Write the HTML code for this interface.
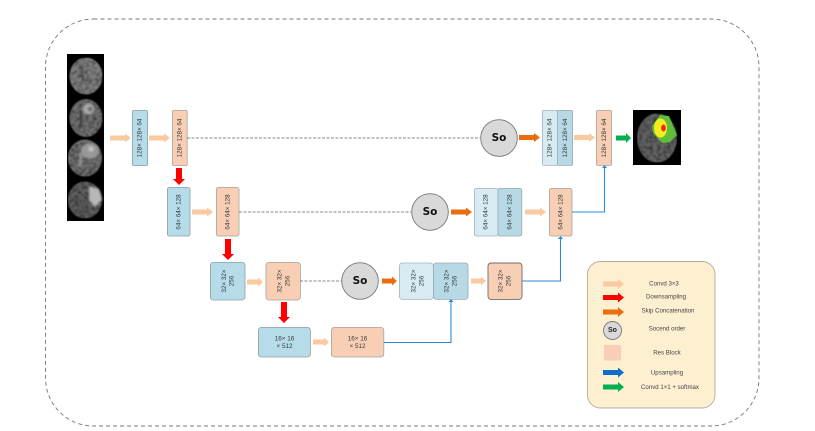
<!DOCTYPE html>
<html><head><meta charset="utf-8"><style>
html,body{margin:0;padding:0;background:#fff}
svg{display:block;filter:blur(.3px)}
text{font-family:"Liberation Sans","DejaVu Sans",sans-serif;fill:#33383c;text-anchor:middle;dominant-baseline:central}
.t{font-size:6.3px}
.l{font-size:6.1px;fill:#444}
.b{fill:#b7dce9;stroke:#8f9fa6;stroke-width:.8}
.p{fill:#f8cfb5;stroke:#a9a39c;stroke-width:.8}
.lb{fill:#d8ebf3;stroke:#a5b3b9;stroke-width:.8}
.mb{fill:#b6d9e5;stroke:#98a9b0;stroke-width:.8}
.ap{fill:#f9c9a2}.ar{fill:#f00}.ao{fill:#ea6d10}.ag{fill:#00b050}.au{fill:#0f6fc6}
.d{stroke:#666;stroke-width:.8;stroke-dasharray:3 1.5;fill:none}
.u{stroke:#2a8ad4;stroke-width:1.1;fill:none}
.c{fill:#d9d9d9;stroke:#777;stroke-width:.9}
.s{font-size:10.5px;font-weight:bold;fill:#111;font-family:"DejaVu Sans",sans-serif}
</style></head><body>
<svg width="815" height="431" viewBox="0 0 815 431" xmlns="http://www.w3.org/2000/svg">
<defs>
<filter id="f1" x="-30%" y="-30%" width="160%" height="160%"><feGaussianBlur stdDeviation="1"/></filter>
<filter id="n" x="0" y="0" width="100%" height="100%">
<feTurbulence type="fractalNoise" baseFrequency=".28" numOctaves="2" seed="4" result="t"/>
<feColorMatrix in="t" type="matrix" values="0 0 0 0 0  0 0 0 0 0  0 0 0 0 0  1.6 0 0 0 -.55" result="a"/>
<feComposite in="a" in2="SourceAlpha" operator="in" result="m"/>
<feMerge result="mm"><feMergeNode in="SourceGraphic"/><feMergeNode in="m"/></feMerge>
<feGaussianBlur in="mm" stdDeviation=".5"/>
</filter>
</defs>
<rect x="45.500" y="19" width="713.500" height="407" rx="48" ry="48" fill="none" stroke="#777" stroke-width=".9" stroke-dasharray="4 3"/>

<!-- MRI strip -->
<rect x="67" y="54" width="37" height="167" fill="#000"/>
<g filter="url(#n)">
<ellipse cx="86" cy="76" rx="16.500" ry="18.500" fill="#808080"/>
<ellipse cx="86" cy="118" rx="16.500" ry="19" fill="#727272"/>
<ellipse cx="85" cy="158" rx="17" ry="18.500" fill="#707070"/>
<ellipse cx="85" cy="200" rx="17" ry="18.500" fill="#5e5e5e"/>
</g>
<g filter="url(#f1)">
<path d="M82 66l1 16" stroke="#333" stroke-width="1.500"/>
<path d="M81 113l0 13" stroke="#222" stroke-width="1.500"/>
<circle cx="88.500" cy="109" r="5.500" fill="#aaa"/><circle cx="90" cy="109" r="2.200" fill="#5a5a5a"/>
<ellipse cx="90" cy="151" rx="9" ry="8" fill="#989898"/><circle cx="91" cy="149" r="2.500" fill="#c4c4c4"/>
<path d="M81 153l-1 14" stroke="#a0a0a0" stroke-width="2"/>
<path d="M89 186l10 3 3 11-7 7-6-7z" fill="#b8b8b8"/>
</g>

<!-- Row 1 -->
<path class="ap" d="M110 135.500h15v-2l6 4.500-6 4.500v-2h-15z"/>
<rect class="b" x="132.400" y="110.400" width="15.200" height="55.200" rx="1.500"/>
<text class="t" transform="translate(140 138) rotate(-90)">128× 128× 64</text>
<path class="ap" d="M149 135.500h15v-2l6 4.500-6 4.500v-2h-15z"/>
<rect class="p" x="172.400" y="110.400" width="14.800" height="55.200" rx="1.500"/>
<text class="t" transform="translate(180 138) rotate(-90)">128× 128× 64</text>
<path class="d" d="M187 138H480"/>
<circle class="c" cx="499" cy="138" r="18.300"/><text class="s" x="499" y="138">So</text>
<path class="ao" d="M519 135h15v-2l6 4.500-6 4.500v-2h-15z"/>
<rect class="lb" x="542.400" y="110.400" width="15" height="55" rx="1.500"/>
<rect class="mb" x="557.400" y="110.400" width="15.200" height="55" rx="1.500"/>
<text class="t" transform="translate(550 138) rotate(-90)">128× 128× 64</text>
<text class="t" transform="translate(565.500 138) rotate(-90)">128× 128× 64</text>
<path class="ap" d="M574 135h15v-2l6 4.500-6 4.500v-2h-15z"/>
<rect class="p" x="596.400" y="110.400" width="15.200" height="55" rx="1.500"/>
<text class="t" transform="translate(604.500 138) rotate(-90)">128× 128× 64</text>
<path class="ag" d="M616 135.500h10v-2.500l5 5-5 5v-2.500h-10z"/>

<!-- output -->
<rect x="633" y="110" width="48" height="55" fill="#000"/>
<g filter="url(#n)"><ellipse cx="657" cy="138" rx="20" ry="24.500" fill="#646464"/></g>
<path d="M660 115L669 116L677 135L670 142L662 143L653 133L652 126Z" fill="#5fbd3a"/>
<ellipse cx="660.500" cy="128" rx="6.500" ry="9.500" fill="#f5ee1e"/>
<ellipse cx="663.500" cy="128" rx="2.300" ry="3.500" fill="#f0242a"/>

<!-- Row 2 -->
<path class="ar" d="M176 168h6v11h3l-6 6-6-6h3z"/>
<rect class="b" x="167.400" y="187.400" width="22.600" height="48.600" rx="2"/>
<text class="t" transform="translate(179 212) rotate(-90)">64× 64× 128</text>
<path class="ap" d="M192 209.500h15v-2l6 4.500-6 4.500v-2h-15z"/>
<rect class="p" x="216.400" y="187.400" width="22.600" height="48.600" rx="2"/>
<text class="t" transform="translate(228 212) rotate(-90)">64× 64× 128</text>
<path class="d" d="M239 212H411"/>
<circle class="c" cx="430" cy="212" r="18.300"/><text class="s" x="430" y="212">So</text>
<path class="ao" d="M451 209.500h15v-2l6 4.500-6 4.500v-2h-15z"/>
<rect class="lb" x="474.400" y="188.400" width="23.600" height="47.600" rx="2"/>
<rect class="mb" x="498" y="188.400" width="23.800" height="47.600" rx="2"/>
<text class="t" transform="translate(486 212) rotate(-90)">64× 64× 128</text>
<text class="t" transform="translate(510 212) rotate(-90)">64× 64× 128</text>
<path class="ap" d="M525 209.500h15v-2l6 4.500-6 4.500v-2h-15z"/>
<rect class="p" x="549.400" y="188.400" width="22.600" height="47.600" rx="2"/>
<text class="t" transform="translate(561 212) rotate(-90)">64× 64× 128</text>
<path class="u" d="M572 212H604.500V167"/>
<path fill="#2a8ad4" d="M604.500 165l2.500 3h-5z"/>

<!-- Row 3 -->
<path class="ar" d="M225 239h6v15h3l-6 6-6-6h3z"/>
<rect class="b" x="210.400" y="262.400" width="34.600" height="37.600" rx="3"/>
<text class="t" transform="translate(224.500 281) rotate(-90)">32× 32×</text>
<text class="t" transform="translate(232 281) rotate(-90)">256</text>
<path class="ap" d="M247 279.500h11v-2l5 4.500-5 4.500v-2h-11z"/>
<rect class="p" x="266" y="262.400" width="34.400" height="37.600" rx="3"/>
<text class="t" transform="translate(280 281) rotate(-90)">32× 32×</text>
<text class="t" transform="translate(288 281) rotate(-90)">256</text>
<path class="d" d="M300 281H342"/>
<circle class="c" cx="360" cy="281" r="18.300"/><text class="s" x="360" y="281">So</text>
<path class="ao" d="M382 278.500h10v-2l5 4.500-5 4.500v-2h-10z"/>
<rect class="lb" x="399.400" y="263" width="34" height="36.400" rx="3"/>
<rect class="mb" x="433.400" y="263" width="34.600" height="36.400" rx="3"/>
<text class="t" transform="translate(414 281) rotate(-90)">32× 32×</text>
<text class="t" transform="translate(422 281) rotate(-90)">256</text>
<text class="t" transform="translate(447 281) rotate(-90)">32× 32×</text>
<text class="t" transform="translate(455 281) rotate(-90)">256</text>
<path class="ap" d="M471 278.500h10v-2l5 4.500-5 4.500v-2h-10z"/>
<rect x="488" y="263" width="34" height="36.400" rx="3" fill="#f8cfb5" stroke="#6f6a66" stroke-width=".9"/>
<text class="t" transform="translate(501 281) rotate(-90)">32× 32×</text>
<text class="t" transform="translate(509 281) rotate(-90)">256</text>
<path class="u" d="M522 281H560.500V238"/>
<path fill="#2a8ad4" d="M560.500 236l2.500 3h-5z"/>

<!-- Row 4 -->
<path class="ar" d="M281 302h6v15h3l-6 6-6-6h3z"/>
<rect class="b" x="258.400" y="327.400" width="52" height="29.600" rx="3"/>
<text class="t" x="284.500" y="339">16× 16</text><text class="t" x="284.500" y="346.500">× 512</text>
<path class="ap" d="M313 339.500h11v-2l5 4.500-5 4.500v-2h-11z"/>
<rect class="p" x="331.400" y="327.400" width="52.400" height="29.600" rx="3"/>
<text class="t" x="357.500" y="339">16× 16</text><text class="t" x="357.500" y="346.500">× 512</text>
<path class="u" d="M384 342.500H451V301"/>
<path fill="#2a8ad4" d="M451 299l2.500 3h-5z"/>

<!-- Legend -->
<rect x="587.500" y="261.500" width="127.500" height="146.500" rx="13" fill="#fdf0d0" stroke="#b2ad9f" stroke-width=".9"/>
<path class="ap" d="M603 281.500h15v-2.500l6 5-6 5v-2.500h-15z"/>
<path class="ar" d="M603 295h15v-2.500l6 5-6 5v-2.500h-15z"/>
<path class="ao" d="M603 309.500h15v-2.500l6 5-6 5v-2.500h-15z"/>
<circle class="c" cx="612.500" cy="330.500" r="9"/><text x="612.500" y="330.500" style="font-size:7px;font-weight:bold;fill:#222">So</text>
<rect x="604" y="345" width="17" height="15.500" fill="#f8ceb8"/>
<path class="au" d="M603 370h15v-2.500l6 5-6 5v-2.500h-15z"/>
<path class="ag" d="M603 384.500h15v-2.500l6 5-6 5v-2.500h-15z"/>
<text class="l" x="664" y="284">Convd 3×3</text>
<text class="l" x="666" y="297">Downsampling</text>
<text class="l" x="668" y="311">Skip Concatenation</text>
<text class="l" x="667" y="329">Socend order</text>
<text class="l" x="667" y="353">Res Block</text>
<text class="l" x="667" y="373">Upsampling</text>
<text class="l" x="670" y="387.500">Convd 1×1 + softmax</text>
</svg>
</body></html>
